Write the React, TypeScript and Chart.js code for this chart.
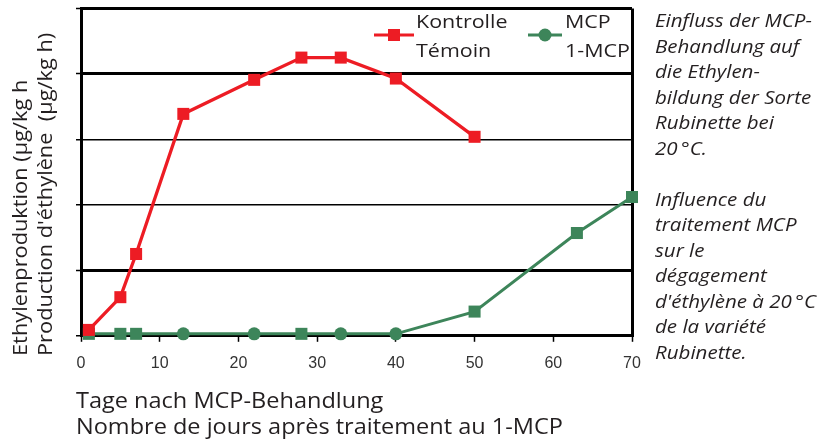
import React, { useEffect, useRef } from "react";
import { Chart, registerables } from "chart.js";

Chart.register(...registerables);

// ---- data ----
const controlDays = [1, 5, 7, 13, 22, 28, 33, 40, 50];
const controlValues = [0.9, 5.9, 12.5, 33.9, 39.1, 42.5, 42.5, 39.3, 30.4];
const mcpDays = [1, 5, 7, 13, 22, 28, 33, 40, 50, 63, 70];
const mcpValues = [0.3, 0.3, 0.3, 0.3, 0.3, 0.3, 0.3, 0.3, 3.7, 15.7, 21.2];
const mcpMarkers = ["rect", "rect", "rect", "circle", "circle", "rect", "circle", "circle", "rect", "rect", "rect"];
const xTicks = [0, 10, 20, 30, 40, 50, 60, 70];
const yGridValues = [0, 10, 20, 30, 40, 50];
const thickGridValues = [10, 40, 50];
const controlLabel = ["Kontrolle", "Témoin"];
const mcpLabel = ["MCP", "1-MCP"];
const xTitle = ["Tage nach MCP-Behandlung", "Nombre de jours après traitement au 1-MCP"];
const yTitle = ["Ethylenproduktion (µg/kg h", "Production d'éthylène  (µg/kg h)"];
const caption = [
  "Einfluss der MCP-",
  "Behandlung auf",
  "die Ethylen-",
  "bildung der Sorte",
  "Rubinette bei",
  "20\u2009°C.",
  "",
  "Influence du",
  "traitement MCP",
  "sur le",
  "dégagement",
  "d'éthylène à 20\u2009°C",
  "de la variété",
  "Rubinette.",
];

const RED = "#ED1C24";
const GREEN = "#3D855A";
const TEXT = "#231f20";

function drawMarker(ctx: CanvasRenderingContext2D, style: string, x: number, y: number, color: string) {
  ctx.fillStyle = color;
  if (style === "rect") {
    ctx.fillRect(x - 6, y - 6, 12, 12);
  } else {
    ctx.beginPath();
    ctx.arc(x, y, 6.5, 0, Math.PI * 2);
    ctx.fill();
  }
}

function stretchedText(ctx: CanvasRenderingContext2D, text: string, x: number, y: number, sx: number) {
  ctx.save();
  ctx.translate(x, y);
  ctx.scale(sx, 1);
  ctx.fillText(text, 0, 0);
  ctx.restore();
}

const textPlugin = {
  id: "texts",
  afterDraw(chart: any) {
    const ctx: CanvasRenderingContext2D = chart.ctx;
    ctx.save();
    // legend
    const legends = [
      { x1: 374, x2: 414, y: 35, color: RED, marker: "rect", tx: 416, lines: controlLabel },
      { x1: 528, x2: 562, y: 35, color: GREEN, marker: "circle", tx: 565, lines: mcpLabel },
    ];
    for (const l of legends) {
      ctx.strokeStyle = l.color;
      ctx.lineWidth = 3;
      ctx.beginPath();
      ctx.moveTo(l.x1, l.y);
      ctx.lineTo(l.x2, l.y);
      ctx.stroke();
      drawMarker(ctx, l.marker, (l.x1 + l.x2) / 2, l.y, l.color);
      ctx.fillStyle = TEXT;
      ctx.font = '19px "Open Sans"';
      ctx.textAlign = "left";
      ctx.textBaseline = "alphabetic";
      stretchedText(ctx, l.lines[0], l.tx, 28, 1.13);
      stretchedText(ctx, l.lines[1], l.tx, 57, 1.13);
    }
    // x title
    ctx.fillStyle = TEXT;
    ctx.font = '21px "Open Sans"';
    stretchedText(ctx, xTitle[0], 76, 408, 1.12);
    stretchedText(ctx, xTitle[1], 76, 434, 1.12);
    // caption
    ctx.font = 'italic 18px "Open Sans"';
    caption.forEach((line, i) => {
      if (line) stretchedText(ctx, line, 655, 27 + i * 25.5, 1.14);
    });
    // y title
    ctx.translate(0, 356);
    ctx.rotate(-Math.PI / 2);
    ctx.textAlign = "left";
    ctx.textBaseline = "middle";
    ctx.font = '20px "Open Sans"';
    ctx.save();
    ctx.scale(1.09, 1);
    ctx.fillText(yTitle[0], 0, 21);
    ctx.fillText(yTitle[1], 0, 46);
    ctx.restore();
    ctx.restore();
  },
};

export default function App() {
  const ref = useRef<HTMLCanvasElement>(null);
  useEffect(() => {
    if (!ref.current) return;
    const chart = new Chart(ref.current, {
      type: "line",
      data: {
        datasets: [
          {
            label: controlLabel.join(" / "),
            data: controlDays.map((d, i) => ({ x: d, y: controlValues[i] })),
            borderColor: RED,
            backgroundColor: RED,
            borderWidth: 3.3,
            pointStyle: "rect",
            pointRadius: 8.5,
            pointBorderWidth: 0,
            tension: 0,
            clip: false,
          },
          {
            label: mcpLabel.join(" / "),
            data: mcpDays.map((d, i) => ({ x: d, y: mcpValues[i] })),
            borderColor: GREEN,
            backgroundColor: GREEN,
            borderWidth: 3,
            pointStyle: mcpMarkers as any,
            pointRadius: mcpMarkers.map((m) => (m === "rect" ? 8.5 : 6.5)),
            pointBorderWidth: 0,
            tension: 0,
            clip: false,
          },
        ],
      },
      options: {
        animation: false,
        responsive: false,
        layout: { padding: { left: 76, top: 7, right: 197, bottom: 56 } },
        plugins: { legend: { display: false }, tooltip: { enabled: false } },
        scales: {
          x: {
            type: "linear",
            min: 0,
            max: 70,
            afterBuildTicks: (s: any) => {
              s.ticks = xTicks.map((v) => ({ value: v }));
            },
            ticks: {
              autoSkip: false,
              maxRotation: 0,
              padding: 12,
              color: "#333",
              font: { family: "Liberation Sans", size: 16 },
            },
            grid: {
              drawOnChartArea: true,
              color: (c: any) => (c.tick && c.tick.value === 70 ? "#000" : "rgba(0,0,0,0)"),
              lineWidth: 3,
              tickColor: "#000",
              tickWidth: 1.5,
              tickLength: 6,
            },
            border: { display: true, color: "#000", width: 3 },
          },
          y: {
            type: "linear",
            min: 0,
            max: 50,
            afterBuildTicks: (s: any) => {
              s.ticks = yGridValues.map((v) => ({ value: v }));
            },
            ticks: { display: false },
            grid: {
              color: "#000",
              lineWidth: (c: any) => (c.tick && thickGridValues.includes(c.tick.value) ? 3 : 1.5),
              tickColor: "#000",
              tickWidth: 1.5,
              tickLength: 5,
            },
            border: { display: true, color: "#000", width: 3 },
          },
        },
      },
      plugins: [textPlugin],
    });
    return () => chart.destroy();
  }, []);
  return (
    <div style={{ position: "fixed", left: 0, top: 0, width: 829, height: 441, background: "#fff" }}>
      <canvas ref={ref} width={829} height={441} style={{ width: 829, height: 441 }} />
    </div>
  );
}
